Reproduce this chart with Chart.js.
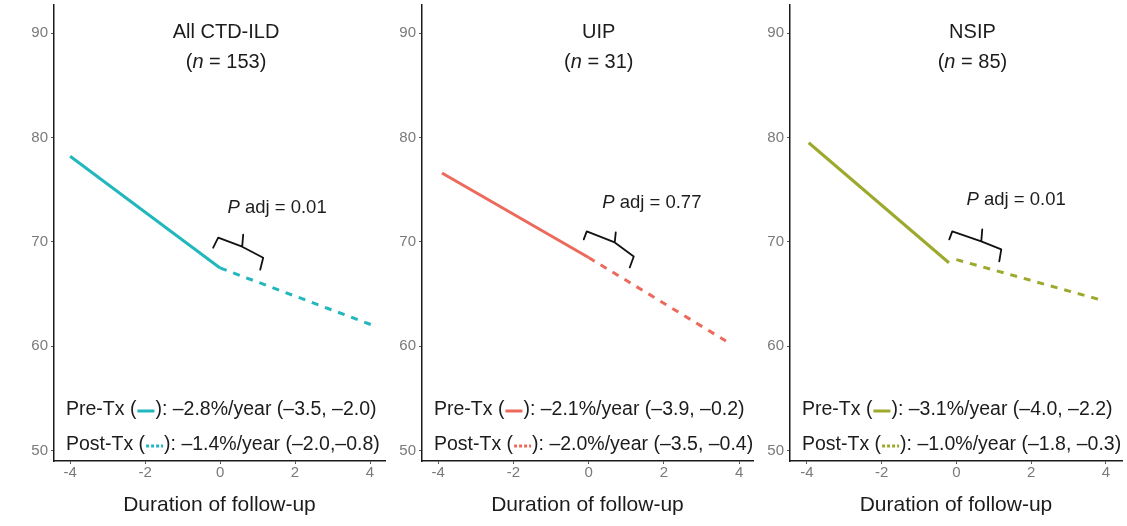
<!DOCTYPE html>
<html>
<head>
<meta charset="utf-8">
<script src="https://cdn.jsdelivr.net/npm/chart.js@4.4.1/dist/chart.umd.min.js"></script>
<style>
  html, body { margin: 0; padding: 0; background: #ffffff; }
  body { width: 1127px; height: 526px; position: relative; overflow: hidden; }
  .panel { position: absolute; top: 0; height: 526px; }
  .panel canvas { display: block; }
</style>
</head>
<body>
<div class="panel" style="left:0px;width:388px"><canvas id="panel0" width="388" height="526"></canvas></div>
<div class="panel" style="left:388px;width:368px"><canvas id="panel1" width="368" height="526"></canvas></div>
<div class="panel" style="left:753px;width:374px"><canvas id="panel2" width="374" height="526"></canvas></div>
<script>
// ---- data ----
const groups = ['All CTD-ILD', 'UIP', 'NSIP'];
const groupN = ['153', '31', '85'];
const seriesColors = ['#22b7bc', '#ec6a5b', '#9da92c'];

// fitted FVC % predicted, before (solid) and after (dashed) treatment start
const preX  = [[-4, 0],      [-3.9, 0],    [-3.95, -0.2]];
const preY  = [[78.2, 67.5], [76.6, 68.5], [79.5, 68.0]];
const postX = [[0, 4.08],    [0, 3.65],    [0, 3.8]];
const postY = [[67.5, 62.0], [68.5, 60.5], [68.3, 64.5]];

const pAdj = ['0.01', '0.77', '0.01'];
const preRate  = ['\u20132.8%/year (\u20133.5, \u20132.0)', '\u20132.1%/year (\u20133.9, \u20130.2)', '\u20133.1%/year (\u20134.0, \u20132.2)'];
const postRate = ['\u20131.4%/year (\u20132.0,\u20130.8)',  '\u20132.0%/year (\u20133.5, \u20130.4)', '\u20131.0%/year (\u20131.8, \u20130.3)'];

const xTicks = [-4, -2, 0, 2, 4];
const yTicks = [50, 60, 70, 80, 90];

// ---- layout of each panel ----
const FONT = '"Liberation Sans", Arial, Helvetica, sans-serif';
const frames = [
  { yAxisWidth: 54, xMin: -4.43, xMax: 4.40, padRight: 3 },
  { yAxisWidth: 34, xMin: -4.43, xMax: 4.37, padRight: 3 },
  { yAxisWidth: 37, xMin: -4.45, xMax: 4.43, padRight: 5 }
];
// title centre (data x), p-value label centre (data x, y), brace corner (data x, y)
const titleAt = [0.16, 0.27, 0.43];
const pLabelAt = [[1.52, 73.25], [1.68, 73.7], [1.6, 74.0]];
const braceAt = [[-0.05, 70.4], [-0.05, 71.0], [-0.11, 71.0]];
// brace outline in pixels relative to its left corner
const braceShape = [
  { hookL: [-5, 10], base: [24, 9],  tip: [25, -3], right: [45, 20], hookR: [42, 32] },
  { hookL: [-3, 8],  base: [28, 11], tip: [29, 1],  right: [47, 25], hookR: [43, 36] },
  { hookL: [-3, 8],  base: [29, 10], tip: [30, -2], right: [49, 18], hookR: [47, 30] }
];

function font(size, italic) {
  return (italic ? 'italic ' : '') + size + 'px ' + FONT;
}

// draws a run of text pieces (some italic) starting at x, or centred on x
function drawRuns(ctx, runs, x, y, size, align) {
  let total = 0;
  runs.forEach(r => { ctx.font = font(size, r.italic); total += ctx.measureText(r.text).width; });
  let cx = align === 'center' ? x - total / 2 : x;
  ctx.textAlign = 'left';
  ctx.textBaseline = 'middle';
  runs.forEach(r => {
    ctx.font = font(size, r.italic);
    ctx.fillText(r.text, cx, y);
    cx += ctx.measureText(r.text).width;
  });
  return cx;
}

const panelAnnotations = {
  id: 'panelAnnotations',
  afterDraw(chart, args, opts) {
    const i = opts.index;
    const ctx = chart.ctx;
    const xs = chart.scales.x, ys = chart.scales.y;
    const area = chart.chartArea;
    ctx.save();
    ctx.fillStyle = '#1c1c1c';

    // panel title
    const tx = xs.getPixelForValue(titleAt[i]);
    drawRuns(ctx, [{ text: groups[i] }], tx, 32, 20, 'center');
    drawRuns(ctx, [{ text: '(' }, { text: 'n', italic: true }, { text: ' = ' + groupN[i] + ')' }], tx, 62, 20, 'center');

    // adjusted p-value
    const px = xs.getPixelForValue(pLabelAt[i][0]);
    const py = ys.getPixelForValue(pLabelAt[i][1]);
    drawRuns(ctx, [{ text: 'P', italic: true }, { text: ' adj = ' + pAdj[i] }], px, py, 18.5, 'center');

    // brace joining the two slopes
    const bx = xs.getPixelForValue(braceAt[i][0]);
    const by = ys.getPixelForValue(braceAt[i][1]);
    const s = braceShape[i];
    const P = p => [bx + p[0], by + p[1]];
    ctx.strokeStyle = '#111';
    ctx.lineWidth = 1.8;
    ctx.lineJoin = 'round';
    ctx.lineCap = 'round';
    ctx.beginPath();
    ctx.moveTo(...P(s.hookL));
    ctx.lineTo(bx, by);
    ctx.lineTo(...P(s.base));
    ctx.lineTo(...P(s.right));
    ctx.lineTo(...P(s.hookR));
    ctx.moveTo(...P(s.base));
    ctx.lineTo(...P(s.tip));
    ctx.stroke();

    // slope legend
    const lx = area.left + 12;
    const size = 19.5;
    const rows = [
      { label: 'Pre-Tx (', rate: preRate[i], dash: [], y: area.bottom - 51 },
      { label: 'Post-Tx (', rate: postRate[i], dash: [3, 2], y: area.bottom - 16 }
    ];
    rows.forEach(r => {
      ctx.fillStyle = '#1c1c1c';
      let cx = drawRuns(ctx, [{ text: r.label }], lx, r.y, size, 'left');
      ctx.strokeStyle = seriesColors[i];
      ctx.lineWidth = 3;
      ctx.lineCap = 'butt';
      ctx.setLineDash(r.dash);
      ctx.beginPath();
      ctx.moveTo(cx + 1, r.y + 1);
      ctx.lineTo(cx + 18, r.y + 1);
      ctx.stroke();
      ctx.setLineDash([]);
      drawRuns(ctx, [{ text: '): ' + r.rate }], cx + 19, r.y, size, 'left');
    });
    ctx.restore();
  }
};

function points(xArr, yArr) {
  return xArr.map((x, k) => ({ x: x, y: yArr[k] }));
}

groups.forEach((g, i) => {
  const f = frames[i];
  new Chart(document.getElementById('panel' + i), {
    type: 'scatter',
    data: {
      datasets: [
        {
          label: 'Pre-Tx',
          data: points(preX[i], preY[i]),
          showLine: true,
          borderColor: seriesColors[i],
          borderWidth: 3,
          pointRadius: 0,
          borderCapStyle: 'butt'
        },
        {
          label: 'Post-Tx',
          data: points(postX[i], postY[i]),
          showLine: true,
          borderColor: seriesColors[i],
          borderWidth: 3,
          borderDash: [7, 7],
          pointRadius: 0,
          borderCapStyle: 'butt'
        }
      ]
    },
    options: {
      responsive: false,
      animation: false,
      devicePixelRatio: 1,
      layout: { padding: { top: 5, right: f.padRight, left: 0, bottom: 0 } },
      events: [],
      plugins: {
        legend: { display: false },
        tooltip: { enabled: false },
        panelAnnotations: { index: i }
      },
      scales: {
        x: {
          type: 'linear',
          min: f.xMin,
          max: f.xMax,
          afterBuildTicks: sc => { sc.ticks = xTicks.map(v => ({ value: v })); },
          afterFit: sc => { sc.height = 65; sc.paddingLeft = 0; sc.paddingRight = 0; },
          grid: { drawOnChartArea: false, tickLength: 3, color: '#555', lineWidth: 1 },
          border: { display: true, color: '#1a1a1a', width: 1.5 },
          ticks: {
            color: '#7a7a7a',
            font: { family: FONT, size: 15 },
            padding: 0,
            maxRotation: 0,
            autoSkip: false,
            callback: v => String(v)
          },
          title: {
            display: true,
            text: 'Duration of follow-up',
            color: '#1c1c1c',
            font: { family: FONT, size: 21 },
            padding: { top: 0, bottom: 8 }
          }
        },
        y: {
          type: 'linear',
          min: 49,
          max: 92.7,
          afterBuildTicks: sc => { sc.ticks = yTicks.map(v => ({ value: v })); },
          afterFit: sc => { sc.width = f.yAxisWidth; sc.paddingTop = 0; sc.paddingBottom = 0; },
          grid: { drawOnChartArea: false, tickLength: 3, color: '#555', lineWidth: 1 },
          border: { display: true, color: '#1a1a1a', width: 1.5 },
          ticks: {
            color: '#7a7a7a',
            font: { family: FONT, size: 15 },
            padding: 3,
            callback: v => String(v)
          }
        }
      }
    },
    plugins: [panelAnnotations]
  });
});
</script>
</body>
</html>
